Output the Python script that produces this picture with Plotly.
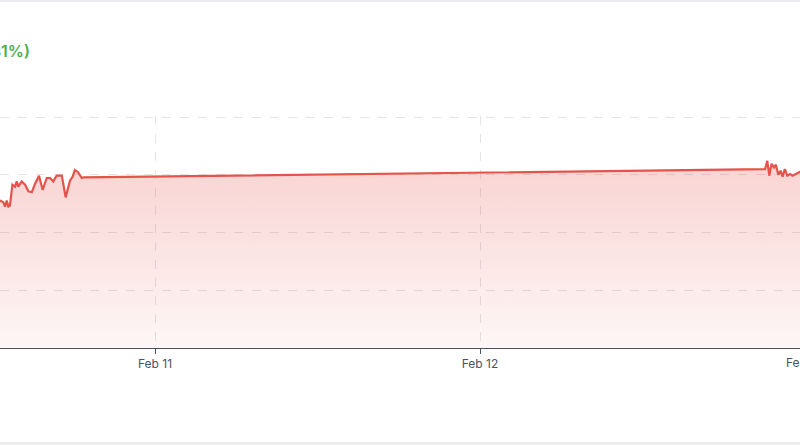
import pandas as pd
import plotly.graph_objects as go

# price samples (timestamp, value)
times = [
    "2025-02-10 11:58", "2025-02-10 12:33", "2025-02-10 12:48", "2025-02-10 12:55",
    "2025-02-10 13:03", "2025-02-10 13:10", "2025-02-10 13:17", "2025-02-10 13:28",
    "2025-02-10 13:40", "2025-02-10 13:47", "2025-02-10 13:54", "2025-02-10 14:09",
    "2025-02-10 14:24", "2025-02-10 14:39", "2025-02-10 14:54", "2025-02-10 15:08",
    "2025-02-10 15:26", "2025-02-10 15:42", "2025-02-10 16:00", "2025-02-10 16:15",
    "2025-02-10 16:29", "2025-02-10 16:44", "2025-02-10 17:07", "2025-02-10 17:24",
    "2025-02-10 17:43", "2025-02-10 17:55", "2025-02-10 18:05", "2025-02-10 18:20",
    "2025-02-10 18:35", "2025-02-10 18:42",
    "2025-02-12 21:03", "2025-02-12 21:13", "2025-02-12 21:22", "2025-02-12 21:32",
    "2025-02-12 21:43", "2025-02-12 21:51", "2025-02-12 22:02", "2025-02-12 22:12",
    "2025-02-12 22:21", "2025-02-12 22:31", "2025-02-12 22:42", "2025-02-12 22:54",
    "2025-02-12 23:05", "2025-02-12 23:23", "2025-02-12 23:38", "2025-02-13 00:04",
]
prices = [
    192.86, 192.77, 192.62, 192.25, 192.77, 192.25, 192.34, 194.15,
    193.98, 194.43, 193.98, 194.43, 194.15, 193.57, 193.49, 194.21,
    194.93, 193.69, 194.73, 194.73, 194.43, 194.93, 194.93, 193.05,
    194.50, 194.84, 195.42, 195.21, 194.73, 194.78,
    195.49, 196.22, 194.93, 195.96, 195.64, 195.88, 195.01, 195.36,
    194.84, 195.50, 194.93, 195.07, 194.93, 195.13, 195.27, 195.36,
]

change_text = "+0.60 (+0.31%)"
x_range = ["2025-02-10 12:33", "2025-02-12 23:38"]
y_range = [180, 200.1]
extra_tick = "2025-02-13"

# layout in pixels
W, H = 800, 445
TOP, BOTTOM = 116, 348


def py(p):
    '''pixel row -> paper y'''
    return (BOTTOM - p) / (BOTTOM - TOP)


line_col = "#e5534b"
axis_col = "#4a5263"

fig = go.Figure()

fig.add_trace(go.Scatter(
    x=pd.to_datetime(times), y=prices,
    mode="lines",
    line=dict(color=line_col, width=2.2),
    fill="tozeroy",
    fillgradient=dict(
        type="vertical",
        start=y_range[0], stop=196,
        colorscale=[[0, "rgba(229,83,75,0.05)"], [1, "rgba(229,83,75,0.25)"]]),
    hoverinfo="skip",
    showlegend=False))

# the Feb 13 label sits just past the right edge of the axis range
x0 = pd.Timestamp(x_range[0])
x1 = pd.Timestamp(x_range[1])
frac = (pd.Timestamp(extra_tick) - x0) / (x1 - x0)

fig.update_layout(
    width=W, height=H,
    margin=dict(l=0, r=0, t=TOP, b=H - BOTTOM, pad=0),
    plot_bgcolor="white",
    paper_bgcolor="white",
    font=dict(family="Inter, Noto Sans, sans-serif", size=12, color=axis_col),
    xaxis=dict(
        range=x_range,
        dtick=86400000,
        tick0="2025-02-10",
        tickformat="%b %-d",
        showgrid=True, gridcolor="#e4e4e7", griddash="dash", gridwidth=1,
        showline=True, linecolor=axis_col, linewidth=1,
        ticks="outside", ticklen=5, tickcolor=axis_col,
        zeroline=False),
    yaxis=dict(
        range=y_range,
        dtick=5,
        showgrid=True, gridcolor="#e4e4e7", griddash="dash", gridwidth=1,
        showticklabels=False, zeroline=False, showline=False),
    annotations=[
        dict(text=change_text, xref="paper", yref="paper",
             x=32 / W, y=py(51), xanchor="right", yanchor="middle",
             showarrow=False,
             font=dict(size=16, color="#4caf50", weight=600)),
        dict(text=pd.Timestamp(extra_tick).strftime("%b %-d"),
             xref="paper", yref="paper",
             x=frac, y=py(362), xanchor="center", yanchor="middle",
             showarrow=False, font=dict(size=12, color=axis_col)),
    ],
    shapes=[
        dict(type="rect", xref="paper", yref="paper", x0=0, x1=1,
             y0=py(2), y1=py(0), fillcolor="#ececf0", line_width=0, layer="above"),
        dict(type="rect", xref="paper", yref="paper", x0=0, x1=1,
             y0=py(H), y1=py(442), fillcolor="#ececec", line_width=0, layer="above"),
    ],
)

# drop the browser's default body margin so the figure sits at the window corner
fig.write_html("out.html",
               config={"displayModeBar": False},
               post_script="document.body.style.margin='0';"
                           "document.body.style.overflow='hidden';")
